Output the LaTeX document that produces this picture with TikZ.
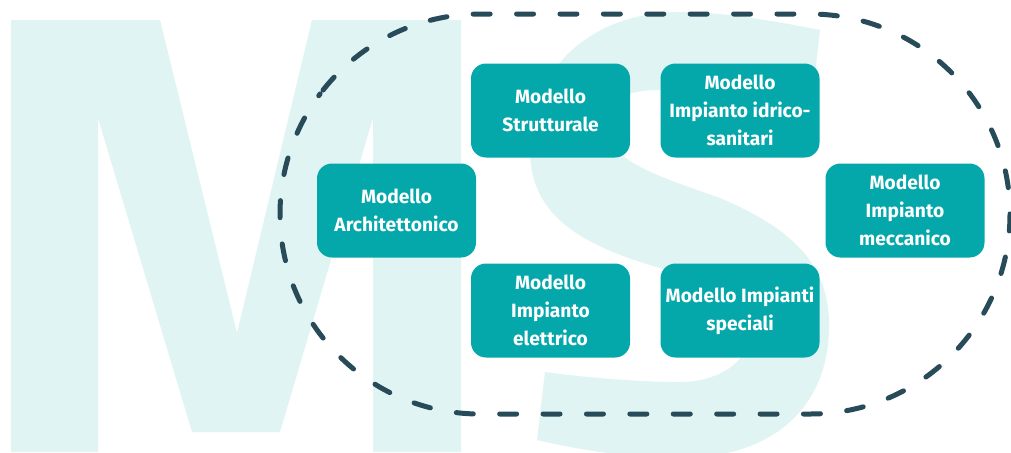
\documentclass[tikz,border=0pt]{standalone}
\usepackage{fontspec}
\setmainfont{Fira Sans}
\usetikzlibrary{calc,positioning}
\definecolor{ATeal}{HTML}{05A8AA}
\definecolor{ASlate}{HTML}{284B59}
\definecolor{AIce}{HTML}{E0F4F3}
\tikzset{
    block/.style = {fill=ATeal, rectangle, rounded corners=7.5pt,
        minimum height=47pt,
        minimum width=79.5pt, align=center, text=white,
        font=\fontsize{9.6}{14}\selectfont\bfseries, inner sep=2pt},
    halo/.style = {draw=ASlate, line width=2.5pt, line cap=round,
        dash pattern=on 8.5pt off 13.2pt},
    letter/.style = {fill=AIce}
}

\begin{document}
\begin{tikzpicture}[x=0.5pt,y=-0.5pt]
    \useasboundingbox (0,0) rectangle (1011,452);
    \fill[white] (0,0) rectangle (1011,452);
    % background letters
    \begin{scope}
        \clip (0,0) rectangle (1011,452);
        \fill[letter] (11,20) -- (160,20) -- (237,333) -- (312,20) -- (461,20) -- (461,452)
            -- (373,452) -- (373,118) -- (280,432) -- (192,432) -- (98,118) -- (98,452) -- (11,452) -- cycle;
        \fill[letter] (820,30) .. controls (770,20) and (720,12) .. (680,12)
            .. controls (595,12) and (530,65) .. (530,150)
            .. controls (530,215) and (580,245) .. (660,268)
            .. controls (720,286) and (750,305) .. (750,332)
            .. controls (750,362) and (718,382) .. (680,382)
            .. controls (640,382) and (590,378) .. (545,372)
            -- (537,440)
            .. controls (580,450) and (630,458) .. (680,458)
            .. controls (770,458) and (829,410) .. (829,325)
            .. controls (829,262) and (790,228) .. (720,198)
            .. controls (660,177) and (605,160) .. (605,125)
            .. controls (605,100) and (625,90) .. (660,90)
            .. controls (720,90) and (770,95) .. (812,100)
            -- cycle;
    \end{scope}
    % dashed boundary
    \draw[halo] (480,214) ++(218.3:200) arc[start angle=218.3, end angle=270, radius=200]
        -- (810,14) arc[start angle=270, end angle=450, radius=200]
        -- (480,414) arc[start angle=90, end angle=216.9, radius=200];
    % models
    \node [block] (strut) at (550.5,110.5) {Modello\\Strutturale};
    \node [block, below of=strut, node distance=100pt] (elet) {Modello\\Impianto\\elettrico};
    \node [block, right of=strut, node distance=94.75pt] (idro) {Modello\\Impianto idrico-\\sanitari};
    \node [block, below of=idro, node distance=100pt] (spec) {Modello Impianti\\speciali};
    \node [block] (arch) at ($(strut)!.5!(elet)+(-154,0)$) {Modello\\Architettonico};
    \node [block] (mecc) at ($(idro)!.5!(spec)+(165,0)$) {Modello\\Impianto\\meccanico};
\end{tikzpicture}
\end{document}
